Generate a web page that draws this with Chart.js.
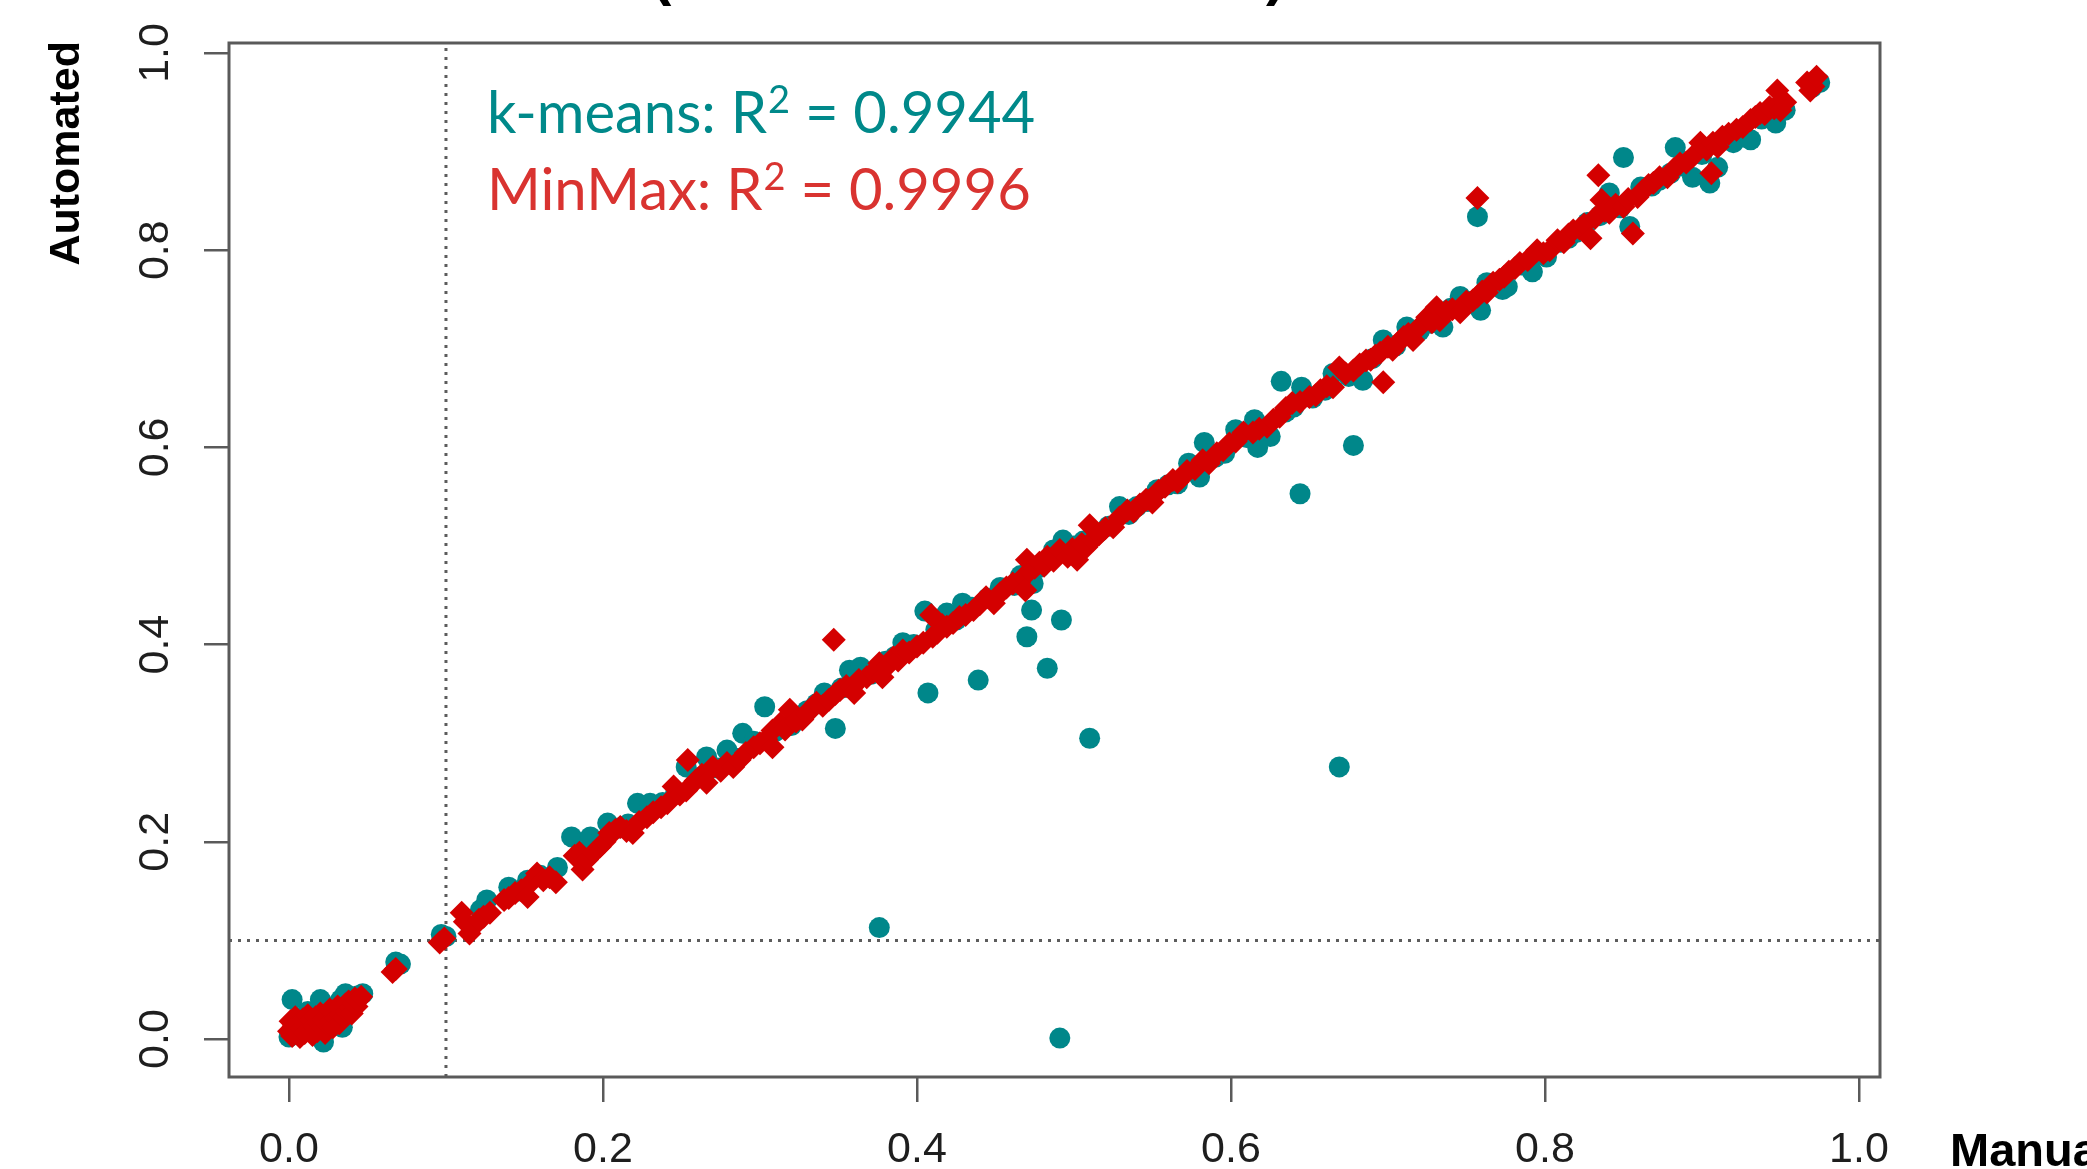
<!DOCTYPE html>
<html>
<head>
<meta charset="utf-8">
<script src="https://cdn.jsdelivr.net/npm/chart.js@4.4.1/dist/chart.umd.min.js"></script>
<style>
  html, body { margin: 0; padding: 0; background: #ffffff; overflow: hidden; }
  canvas { display: block; }
</style>
</head>
<body>
<canvas id="plot" width="2087" height="1169"></canvas>
<script>
// ---------- data ----------
const xTickValues = [0, 0.2, 0.4, 0.6, 0.8, 1.0];
const xTickLabels = ['0.0', '0.2', '0.4', '0.6', '0.8', '1.0'];
const yTickValues = [0, 0.2, 0.4, 0.6, 0.8, 1.0];
const yTickLabels = ['0.0', '0.2', '0.4', '0.6', '0.8', '1.0'];

const xAxisTitle = 'Manual';
const yAxisTitle = 'Automated';
const cutoff = 0.1;

const kmeansName = 'k-means';
const minmaxName = 'MinMax';
const kmeansR2 = '0.9944';
const minmaxR2 = '0.9996';

// [manual, automated] for the k-means thresholding
const kmeansPoints = [
  [0.000,0.002],[0.002,0.040],[0.003,0.010],[0.006,0.020],[0.009,0.012],[0.012,0.028],[0.015,0.018],
  [0.018,0.030],[0.020,0.040],[0.022,-0.003],[0.024,0.022],[0.027,0.032],[0.030,0.026],[0.033,0.040],
  [0.034,0.012],[0.036,0.046],[0.038,0.034],[0.041,0.042],[0.044,0.044],[0.047,0.046],
  [0.068,0.078],[0.071,0.076],[0.097,0.106],[0.100,0.104],
  [0.122,0.131],[0.126,0.141],[0.140,0.154],[0.146,0.150],[0.152,0.161],[0.160,0.166],[0.171,0.174],
  [0.180,0.205],[0.186,0.190],[0.192,0.205],[0.198,0.200],[0.203,0.219],[0.210,0.214],[0.216,0.218],
  [0.222,0.239],[0.230,0.239],[0.238,0.240],[0.246,0.248],[0.253,0.276],[0.260,0.265],[0.266,0.286],
  [0.272,0.275],[0.279,0.293],[0.284,0.285],[0.289,0.310],[0.296,0.302],[0.303,0.337],[0.310,0.312],
  [0.320,0.318],[0.330,0.333],[0.336,0.340],[0.341,0.351],[0.348,0.315],[0.352,0.356],[0.357,0.374],
  [0.364,0.377],[0.371,0.370],[0.376,0.113],[0.380,0.383],[0.386,0.388],[0.391,0.402],[0.398,0.400],
  [0.405,0.434],[0.407,0.351],[0.412,0.415],[0.419,0.432],[0.425,0.425],[0.429,0.442],[0.435,0.438],
  [0.439,0.364],[0.445,0.447],[0.453,0.458],[0.462,0.460],[0.466,0.470],[0.470,0.408],[0.473,0.435],
  [0.474,0.462],[0.478,0.478],[0.483,0.376],[0.487,0.496],[0.491,0.001],[0.492,0.425],[0.493,0.506],
  [0.500,0.500],[0.506,0.505],[0.510,0.305],[0.515,0.513],[0.522,0.520],[0.529,0.540],[0.535,0.532],
  [0.540,0.540],[0.547,0.545],[0.553,0.557],[0.560,0.562],[0.566,0.563],[0.573,0.584],[0.580,0.570],
  [0.583,0.605],[0.590,0.590],[0.596,0.594],[0.603,0.618],[0.610,0.610],[0.615,0.628],[0.617,0.600],
  [0.625,0.611],[0.632,0.667],[0.635,0.636],[0.640,0.641],[0.644,0.553],[0.645,0.661],[0.652,0.650],
  [0.660,0.658],[0.665,0.675],[0.669,0.276],[0.675,0.672],[0.678,0.602],[0.684,0.668],[0.690,0.690],
  [0.697,0.709],[0.705,0.703],[0.712,0.722],[0.720,0.718],[0.727,0.726],[0.735,0.722],[0.740,0.741],
  [0.746,0.753],[0.752,0.748],[0.757,0.834],[0.759,0.739],[0.763,0.767],[0.769,0.766],[0.773,0.760],
  [0.776,0.763],[0.785,0.785],[0.792,0.778],[0.797,0.796],[0.801,0.793],[0.810,0.808],[0.815,0.812],
  [0.820,0.818],[0.827,0.828],[0.835,0.835],[0.841,0.858],[0.848,0.843],[0.850,0.894],[0.854,0.824],
  [0.861,0.864],[0.868,0.865],[0.873,0.871],[0.880,0.878],[0.883,0.904],[0.888,0.885],[0.894,0.874],
  [0.900,0.897],[0.905,0.868],[0.910,0.884],[0.915,0.912],[0.920,0.909],[0.926,0.920],[0.931,0.912],
  [0.938,0.933],[0.943,0.940],[0.947,0.929],[0.953,0.942],[0.970,0.965],[0.975,0.970]
];

// [manual, automated] for the MinMax thresholding
const minmaxPoints = [
  [0.000,0.008],[0.001,0.018],[0.002,0.003],[0.003,0.013],[0.004,0.022],[0.005,0.008],[0.006,0.016],
  [0.007,0.002],[0.008,0.011],[0.009,0.020],[0.010,0.006],[0.011,0.015],[0.012,0.024],[0.013,0.010],
  [0.014,0.019],[0.015,0.004],[0.016,0.013],[0.017,0.022],[0.018,0.008],[0.019,0.017],[0.020,0.026],
  [0.021,0.012],[0.022,0.020],[0.023,0.006],[0.024,0.015],[0.025,0.024],[0.026,0.030],[0.027,0.018],
  [0.028,0.012],[0.029,0.027],[0.030,0.021],[0.031,0.033],[0.032,0.016],[0.033,0.025],[0.034,0.030],
  [0.035,0.022],[0.036,0.035],[0.037,0.028],[0.038,0.038],[0.039,0.032],[0.040,0.026],[0.041,0.036],
  [0.042,0.041],[0.043,0.033],[0.044,0.039],[0.046,0.043],
  [0.066,0.068],[0.068,0.071],[0.096,0.098],[0.099,0.102],
  [0.110,0.128],[0.112,0.119],[0.115,0.107],[0.118,0.115],[0.121,0.121],[0.124,0.124],[0.128,0.128],
  [0.137,0.141],[0.140,0.143],[0.144,0.148],[0.148,0.151],[0.152,0.144],[0.155,0.160],[0.158,0.168],
  [0.162,0.161],[0.166,0.164],[0.170,0.159],
  [0.182,0.186],[0.185,0.189],[0.187,0.172],[0.190,0.182],[0.194,0.189],[0.198,0.195],[0.201,0.200],
  [0.204,0.209],[0.208,0.212],[0.211,0.215],[0.215,0.211],[0.219,0.209],[0.223,0.220],[0.228,0.225],
  [0.232,0.230],[0.237,0.235],[0.241,0.239],[0.245,0.256],[0.249,0.248],[0.253,0.252],[0.254,0.283],
  [0.259,0.262],[0.263,0.268],[0.266,0.260],[0.270,0.276],[0.275,0.272],[0.279,0.280],[0.283,0.276],
  [0.287,0.283],[0.291,0.290],[0.296,0.296],[0.300,0.300],[0.304,0.304],[0.308,0.296],[0.308,0.313],
  [0.313,0.320],[0.316,0.314],[0.319,0.334],[0.323,0.322],[0.327,0.324],[0.330,0.330],[0.333,0.336],
  [0.336,0.341],[0.340,0.338],[0.344,0.344],[0.347,0.405],[0.348,0.350],[0.351,0.354],[0.355,0.358],
  [0.359,0.357],[0.360,0.351],[0.363,0.364],[0.368,0.367],[0.372,0.372],[0.376,0.381],[0.378,0.367],
  [0.381,0.378],[0.385,0.387],[0.388,0.384],[0.391,0.394],[0.395,0.392],[0.400,0.398],[0.404,0.402],
  [0.409,0.430],[0.410,0.408],[0.413,0.412],[0.416,0.420],[0.419,0.418],[0.423,0.422],[0.427,0.428],
  [0.431,0.430],[0.436,0.435],[0.440,0.441],[0.444,0.448],[0.449,0.442],[0.453,0.452],[0.457,0.458],
  [0.461,0.462],[0.465,0.463],[0.468,0.469],[0.469,0.455],[0.470,0.486],[0.472,0.475],[0.475,0.478],
  [0.478,0.483],[0.481,0.480],[0.483,0.489],[0.487,0.485],[0.491,0.496],[0.496,0.489],[0.499,0.497],
  [0.502,0.486],[0.505,0.502],[0.508,0.499],[0.510,0.521],[0.512,0.506],[0.516,0.512],[0.520,0.518],
  [0.525,0.519],[0.529,0.529],[0.534,0.536],[0.538,0.535],[0.542,0.542],[0.546,0.547],[0.550,0.544],
  [0.554,0.556],[0.558,0.560],[0.563,0.567],[0.566,0.565],[0.569,0.570],[0.572,0.576],[0.577,0.578],
  [0.582,0.587],[0.586,0.584],[0.591,0.594],[0.595,0.597],[0.599,0.604],[0.603,0.606],[0.608,0.615],
  [0.614,0.615],[0.618,0.619],[0.623,0.621],[0.627,0.628],[0.631,0.631],[0.635,0.640],[0.639,0.645],
  [0.644,0.646],[0.650,0.651],[0.654,0.653],[0.657,0.658],[0.661,0.662],[0.665,0.661],[0.669,0.681],
  [0.673,0.675],[0.678,0.678],[0.682,0.684],[0.686,0.688],[0.689,0.689],[0.692,0.693],[0.695,0.696],
  [0.697,0.666],[0.700,0.702],[0.703,0.699],[0.707,0.707],[0.710,0.712],[0.713,0.715],[0.716,0.709],
  [0.720,0.722],[0.725,0.732],[0.728,0.727],[0.731,0.742],[0.733,0.729],[0.737,0.738],[0.741,0.740],
  [0.746,0.737],[0.750,0.748],[0.754,0.749],[0.757,0.753],[0.757,0.853],[0.760,0.758],[0.763,0.757],
  [0.767,0.767],[0.771,0.770],[0.774,0.773],[0.777,0.778],[0.781,0.782],[0.784,0.787],[0.789,0.790],
  [0.795,0.800],[0.799,0.797],[0.803,0.800],[0.808,0.810],[0.812,0.808],[0.815,0.816],[0.818,0.820],
  [0.822,0.822],[0.825,0.826],[0.829,0.812],[0.832,0.833],[0.834,0.876],[0.836,0.851],[0.838,0.840],
  [0.841,0.838],[0.845,0.846],[0.850,0.844],[0.853,0.852],[0.856,0.817],[0.859,0.854],[0.862,0.860],
  [0.866,0.866],[0.869,0.868],[0.873,0.874],[0.878,0.874],[0.882,0.882],[0.886,0.888],[0.890,0.889],
  [0.894,0.895],[0.899,0.909],[0.903,0.902],[0.906,0.878],[0.907,0.909],[0.910,0.905],[0.913,0.915],
  [0.917,0.918],[0.922,0.922],[0.926,0.925],[0.931,0.932],[0.934,0.935],[0.937,0.939],[0.940,0.938],
  [0.943,0.945],[0.946,0.944],[0.948,0.962],[0.950,0.942],[0.953,0.950],[0.967,0.970],[0.969,0.962],
  [0.971,0.966],[0.973,0.976]
];

// ---------- look ----------
const TEAL = '#00878A';
const RED = '#D40000';
const TEAL_TEXT = '#00898A';
const RED_TEXT = '#D93330';
const FRAME = '#5a5a5a';

// plotting region (R style: data range widened by 4%)
const X_MIN = -0.0382, X_MAX = 1.0134;
const Y_MIN = -0.0385, Y_MAX = 1.0101;

const toXY = pts => pts.map(p => ({ x: p[0], y: p[1] }));

// box, R-squared notes and axis titles
const decorations = {
  id: 'decorations',
  afterDatasetsDraw(chart) {
    const { ctx, chartArea: a } = chart;
    ctx.save();
    ctx.strokeStyle = FRAME;
    ctx.lineWidth = 3;
    ctx.strokeRect(a.left, a.top, a.right - a.left, a.bottom - a.top);
    ctx.restore();
  },
  afterDraw(chart) {
    const ctx = chart.ctx;
    const note = (name, value, x, y, color) => {
      ctx.save();
      ctx.fillStyle = color;
      ctx.textBaseline = 'alphabetic';
      ctx.textAlign = 'left';
      ctx.font = '58px Lato';
      const head = name + ': R';
      ctx.fillText(head, x, y);
      let cx = x + ctx.measureText(head).width + 1;
      ctx.font = '38px Lato';
      ctx.fillText('2', cx, y - 20);
      cx += ctx.measureText('2').width;
      ctx.font = '58px Lato';
      ctx.fillText(' = ' + value, cx, y);
      ctx.restore();
    };
    note(kmeansName, kmeansR2, 487, 133, TEAL_TEXT);
    note(minmaxName, minmaxR2, 487, 210, RED_TEXT);

    // axis titles
    ctx.save();
    ctx.fillStyle = '#000';
    ctx.font = 'bold 43px "Liberation Sans"';
    ctx.textBaseline = 'middle';
    ctx.translate(67, 41);
    ctx.rotate(-Math.PI / 2);
    ctx.textAlign = 'right';
    ctx.fillText(yAxisTitle, 0, 0);
    ctx.restore();

    ctx.save();
    ctx.fillStyle = '#000';
    ctx.font = 'bold 47px "Liberation Sans"';
    ctx.textBaseline = 'alphabetic';
    ctx.textAlign = 'left';
    ctx.fillText(xAxisTitle, 1950, 1166);
    // lower edge of the main title's brackets
    ctx.font = 'bold 58px "Liberation Sans"';
    ctx.fillText('(', 652, -6);
    ctx.fillText(')', 1266, -6);
    ctx.restore();
  }
};

const tickFont = { family: 'Liberation Sans', size: 43, lineHeight: 1 };

new Chart(document.getElementById('plot'), {
  type: 'scatter',
  data: {
    datasets: [
      {
        label: minmaxName,
        data: toXY(minmaxPoints),
        pointStyle: 'rectRot',
        pointRadius: 12,
        backgroundColor: RED,
        borderWidth: 0,
        order: 0
      },
      {
        label: kmeansName,
        data: toXY(kmeansPoints),
        pointStyle: 'circle',
        pointRadius: 10.5,
        backgroundColor: TEAL,
        borderWidth: 0,
        order: 1
      },
      {
        label: 'manual cut-off',
        data: [{ x: cutoff, y: Y_MIN }, { x: cutoff, y: Y_MAX }],
        showLine: true,
        pointRadius: 0,
        borderColor: '#5c5c5c',
        borderWidth: 3,
        borderDash: [3, 6],
        order: 2
      },
      {
        label: 'automated cut-off',
        data: [{ x: X_MIN, y: cutoff }, { x: X_MAX, y: cutoff }],
        showLine: true,
        pointRadius: 0,
        borderColor: '#5c5c5c',
        borderWidth: 3,
        borderDash: [3, 6],
        order: 2
      }
    ]
  },
  options: {
    responsive: false,
    animation: false,
    devicePixelRatio: 1,
    events: [],
    layout: { padding: { left: 0, top: 43, right: 207, bottom: 0 } },
    plugins: { legend: { display: false }, tooltip: { enabled: false }, title: { display: false } },
    scales: {
      x: {
        type: 'linear',
        position: 'bottom',
        min: X_MIN,
        max: X_MAX,
        afterBuildTicks: s => { s.ticks = xTickValues.map(v => ({ value: v })); },
        afterFit: s => { s.height = 92; },
        border: { display: false },
        grid: { drawOnChartArea: false, drawTicks: true, tickLength: 25, color: FRAME, lineWidth: 2.5 },
        ticks: {
          font: tickFont,
          color: '#1e1e1e',
          padding: 27,
          maxRotation: 0,
          minRotation: 0,
          callback: (v, i) => xTickLabels[i]
        }
      },
      y: {
        type: 'linear',
        position: 'left',
        min: Y_MIN,
        max: Y_MAX,
        afterBuildTicks: s => { s.ticks = yTickValues.map(v => ({ value: v })); },
        afterFit: s => { s.width = 229; },
        border: { display: false },
        grid: { drawOnChartArea: false, drawTicks: true, tickLength: 25, color: FRAME, lineWidth: 2.5 },
        ticks: {
          font: tickFont,
          color: '#1e1e1e',
          padding: 18,
          minRotation: 90,
          maxRotation: 90,
          crossAlign: 'center',
          callback: (v, i) => yTickLabels[i]
        }
      }
    }
  },
  plugins: [decorations]
});
</script>
</body>
</html>
